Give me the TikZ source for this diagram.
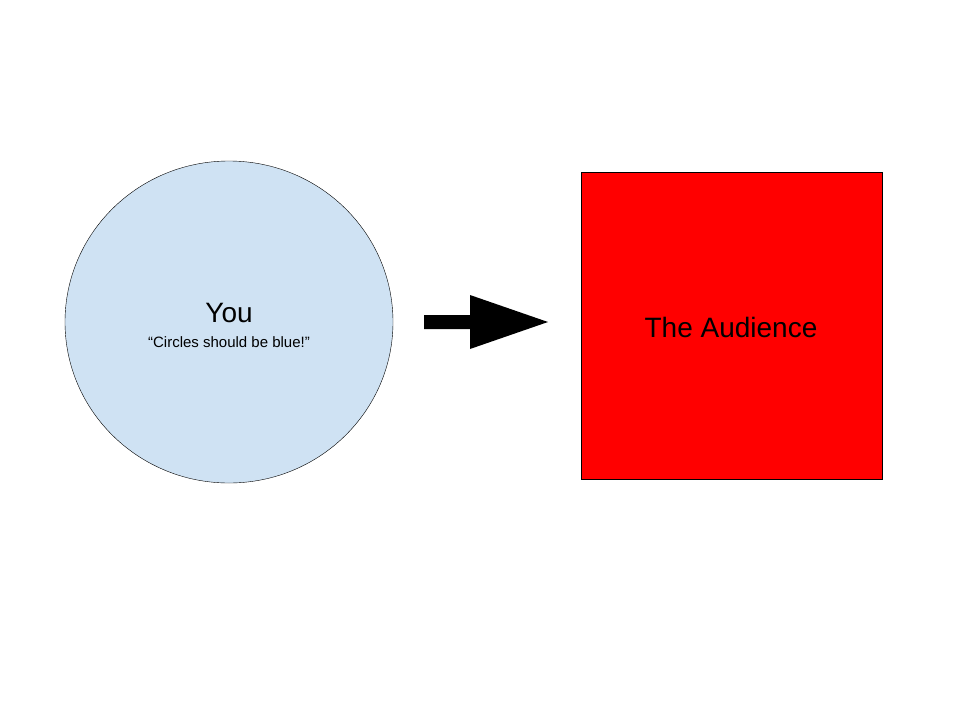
\documentclass[tikz,border=0pt]{standalone}
\usepackage{fontspec}
\setmainfont{Liberation Sans}
\usetikzlibrary{shapes.geometric}
\begin{document}
\begin{tikzpicture}[x=1pt,y=-1pt,
  blob/.style={ellipse,draw=black,fill=blue!20!cyan!10!white,minimum width=328pt,minimum height=322pt,inner sep=0pt},
  box/.style={rectangle,draw=black,fill=red,minimum width=301pt,minimum height=307pt,inner sep=0pt}]
\useasboundingbox (0,0) rectangle (960,720);
\node[blob,fill={rgb,255:red,207;green,226;blue,243}] (you) at (229,322) {};
\node[font=\fontsize{28}{32}\selectfont] (t1) at (229,313) {You};
\node[font=\fontsize{15}{18}\selectfont] (t2) at (229,342) {“Circles should be blue!”};
\node[box] (aud) at (731.5,325.5) {};
\node[font=\fontsize{28}{32}\selectfont] (t3) at (731,327) {The Audience};
\fill[black] (424,315) -- (470,315) -- (470,295) -- (548,322) -- (470,349) -- (470,329) -- (424,329) -- cycle;
\end{tikzpicture}
\end{document}
